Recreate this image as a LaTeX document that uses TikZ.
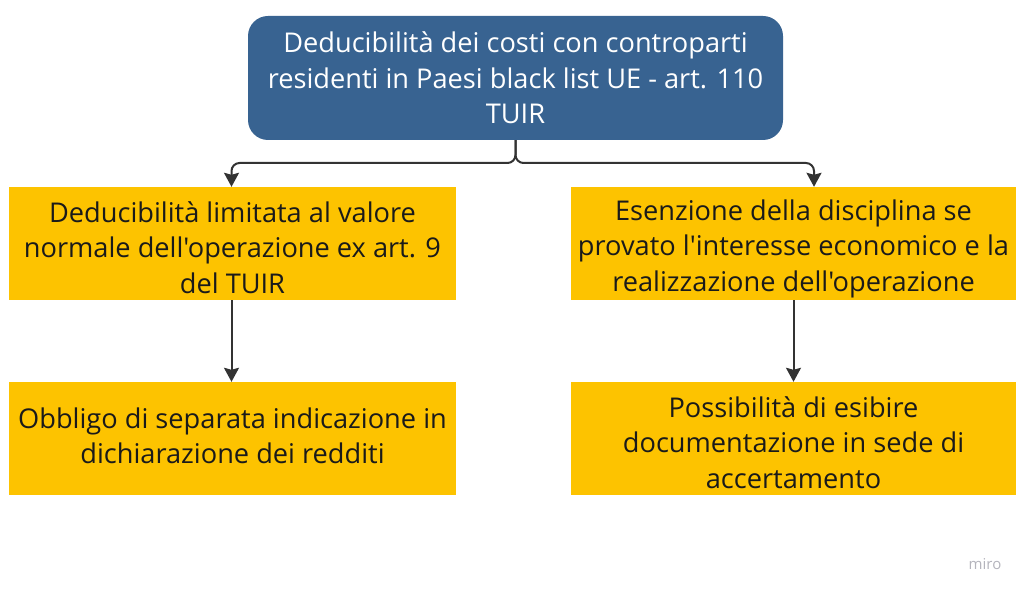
\documentclass[tikz,border=0pt]{standalone}
\usepackage{fontspec}
\setmainfont{Open Sans}[Ligatures=TeXOff]
\usetikzlibrary{arrows.meta}
\definecolor{topblue}{HTML}{386391}
\definecolor{boxyellow}{HTML}{FDC300}
\definecolor{linegray}{HTML}{333333}
\definecolor{txtdark}{HTML}{1A1A1A}
\definecolor{mirogray}{HTML}{B4B4BC}
\tikzset{
  mainbox/.style={fill=topblue, rounded corners=20pt, inner sep=0pt,
    minimum width=535pt, minimum height=124pt},
  ybox/.style={fill=boxyellow, inner sep=0pt, minimum height=113pt},
  maintext/.style={text=white, align=center, inner sep=0pt,
    font=\fontsize{27.2}{35.5}\selectfont},
  ytext/.style={text=txtdark, align=center, inner sep=0pt,
    font=\fontsize{27.2}{35.5}\selectfont},
  conn/.style={draw=linegray, line width=2pt, rounded corners=8pt,
    -{Stealth[width=15pt,length=14pt,inset=2pt]}},
}
\begin{document}
\begin{tikzpicture}[x=1pt,y=-1pt]
\useasboundingbox (0,0) rectangle (1024,593);
\node[mainbox] (top) at (515.5,78) {};
\node[ybox, minimum width=447pt] (l1) at (232.5,243.5) {};
\node[ybox, minimum width=445pt] (r1) at (793.5,243.5) {};
\node[ybox, minimum width=447pt] (l2) at (232.5,438.5) {};
\node[ybox, minimum width=445pt] (r2) at (793.5,438.5) {};
\node[maintext] (toptext) at (top.center) {Deducibilità dei costi con controparti\\residenti in Paesi black list UE - art. 110\\TUIR};
\node[ytext, yshift=-4pt] (l1text) at (l1.center) {Deducibilità limitata al valore\\normale dell'operazione ex art. 9\\del TUIR};
\node[ytext, yshift=-5pt] (r1text) at (r1.center) {Esenzione della disciplina se\\provato l'interesse economico e la\\realizzazione dell'operazione};
\node[ytext, yshift=2.5pt] (l2text) at (l2.center) {Obbligo di separata indicazione in\\dichiarazione dei redditi};
\node[ytext, yshift=-4pt] (r2text) at (r2.center) {Possibilità di esibire\\documentazione in sede di\\accertamento};
\node[text=mirogray, font=\fontsize{15}{17}\selectfont] (miro) at (985,564) {miro};
\coordinate (split) at (515.5,163);
\draw[conn] (top.south) -- (split) -| ([xshift=-1pt]l1.north);
\draw[conn] (top.south) -- (split) -| ([xshift=20.5pt]r1.north);
\draw[conn] ([xshift=-1pt]l1.south) -- ([xshift=-1pt]l2.north);
\draw[conn] (r1.south) -- (r2.north);
\end{tikzpicture}
\end{document}
